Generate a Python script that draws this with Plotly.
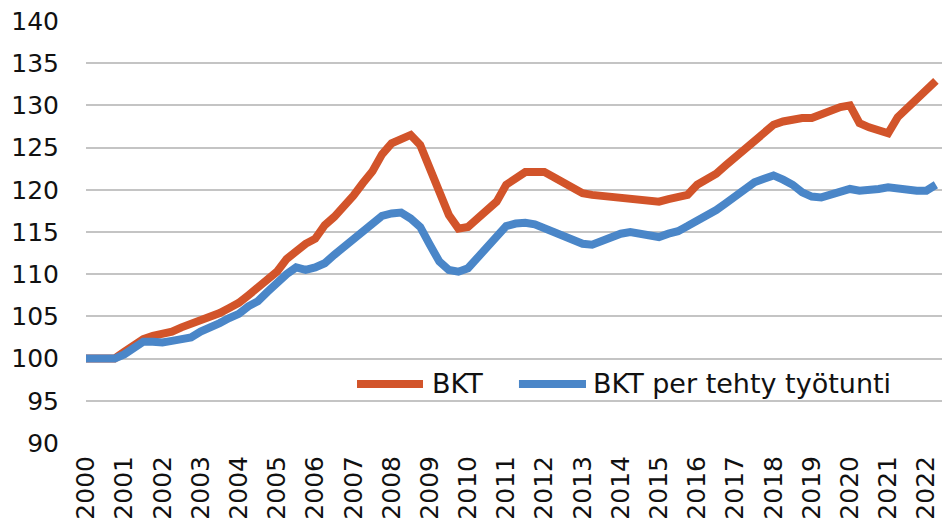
import plotly.graph_objects as go

# Quarterly index, 2000Q1 = 100 ... 2022Q2
years = list(range(2000, 2023))
quarters = [2000 + i / 4 for i in range(90)]

bkt = [
    100.0, 100.0, 100.0, 100.0,
    100.8, 101.7, 102.3, 102.7,
    102.9, 103.2, 103.7, 104.1,
    104.5, 105.0, 105.4, 106.0,
    106.6, 107.5, 108.4, 109.3,
    110.3, 111.8, 112.8, 113.6,
    114.2, 115.8, 116.8, 118.0,
    119.3, 120.8, 122.2, 124.2,
    125.5, 126.0, 126.5, 125.3,
    122.4, 119.5, 117.0, 115.4,
    115.6, 116.6, 117.6, 118.6,
    120.6, 121.3, 122.1, 122.1,
    122.1, 121.5, 120.9, 120.3,
    119.6, 119.4, 119.3, 119.2,
    119.1, 119.0, 119.0, 118.8,
    118.6, 118.9, 119.1, 119.4,
    120.6, 121.2, 121.9, 122.9,
    123.9, 124.7, 125.9, 126.9,
    127.7, 128.1, 128.4, 128.5,
    128.5, 129.0, 129.5, 129.8,
    130.0, 127.9, 127.4, 127.0,
    126.7, 128.6, 129.7, 131.0,
    131.8, 132.9,
]

bkt_per_hour = [
    100.0, 100.0, 100.0, 100.0,
    100.5, 101.2, 102.0, 102.0,
    101.9, 102.1, 102.2, 102.5,
    103.2, 103.6, 104.2, 104.8,
    105.3, 106.2, 106.8, 107.9,
    109.0, 110.0, 110.8, 110.5,
    110.8, 111.3, 112.3, 113.2,
    114.3, 115.2, 116.2, 116.9,
    117.2, 117.3, 116.6, 115.6,
    113.5, 111.5, 110.5, 110.3,
    110.7, 111.9, 113.1, 114.5,
    115.7, 116.0, 116.1, 115.9,
    115.4, 115.0, 114.4, 113.9,
    113.6, 113.5, 114.0, 114.5,
    114.8, 115.0, 114.8, 114.6,
    114.4, 114.8, 115.1, 115.7,
    116.3, 116.8, 117.6, 118.4,
    119.2, 120.1, 120.9, 121.3,
    121.7, 121.2, 120.6, 119.7,
    119.2, 119.1, 119.5, 119.9,
    120.1, 119.9, 119.9, 120.1,
    120.3, 120.1, 119.9, 119.9,
    119.9, 120.6,
]

y_ticks = list(range(90, 141, 5))
series_names = ["BKT", "BKT per tehty työtunti"]
colors = ["#D2542A", "#4A86C8"]

FONT = "DejaVu Sans"

fig = go.Figure()
for name, vals, col in zip(series_names, [bkt, bkt_per_hour], colors):
    fig.add_trace(go.Scatter(
        x=quarters, y=vals, mode="lines", name=name,
        line=dict(color=col, width=8), showlegend=False,
    ))

# manual legend (line samples + labels) in paper coordinates
legend_items = [
    (0.3166, 0.3937, 0.4019, series_names[0], colors[0]),
    (0.5058, 0.5841, 0.5900, series_names[1], colors[1]),
]
for x0, x1, xt, txt, col in legend_items:
    fig.add_shape(type="line", xref="paper", yref="paper",
                  x0=x0, x1=x1, y0=0.14, y1=0.14,
                  line=dict(color=col, width=8))
    fig.add_annotation(xref="paper", yref="paper", x=xt, y=0.14,
                       text=txt, showarrow=False, xanchor="left", yanchor="middle",
                       font=dict(family=FONT, size=27, color="#111111"))

fig.update_layout(
    width=942, height=526,
    margin=dict(l=86, r=0, t=21, b=83),
    paper_bgcolor="white", plot_bgcolor="white",
    font=dict(family=FONT, size=25, color="#111111"),
)
fig.update_xaxes(
    range=[2000, 2022.41], tickmode="array", tickvals=years,
    ticktext=[str(y) for y in years], tickangle=-90,
    showgrid=False, zeroline=False, showline=False, ticks="",
    ticklabelstandoff=7, automargin=False,
)
fig.update_yaxes(
    range=[90, 140], tickmode="array", tickvals=y_ticks,
    showgrid=True, gridcolor="#c4c4c4", gridwidth=1.5,
    zeroline=False, showline=False, ticks="",
    ticklabelstandoff=26, automargin=False,
)

fig.write_html(
    "out.html",
    config={"displayModeBar": False},
    post_script="document.body.style.margin='0';document.body.style.padding='0';",
)
